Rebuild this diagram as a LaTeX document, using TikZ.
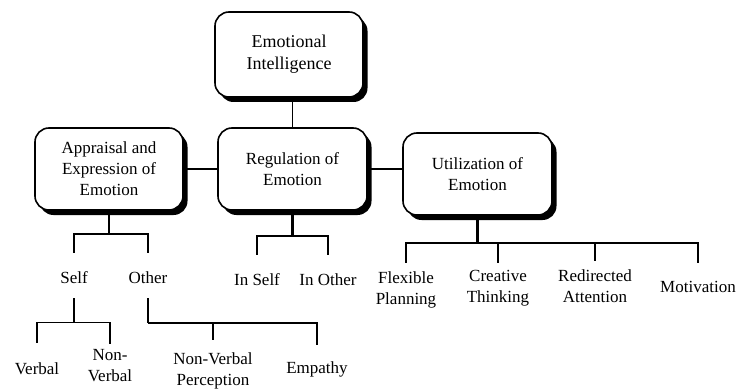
\documentclass[tikz,border=0pt]{standalone}
\usepackage{fontspec}
\setmainfont{Liberation Serif}
\usetikzlibrary{calc}
\usetikzlibrary{shadows}

\begin{document}
\begin{tikzpicture}[x=1pt,y=1pt,
  box/.style={draw=black,line width=1.6pt,rounded corners=14pt,fill=white,
    minimum width=148pt,minimum height=82pt,inner sep=0pt,align=center,
    font=\fontsize{17}{21}\selectfont,
    drop shadow={shadow xshift=4.5pt,shadow yshift=-5pt,fill=black,opacity=1}},
  lbl/.style={inner sep=0pt,align=center,font=\fontsize{17}{21}\selectfont},
  conn/.style={draw=black,line width=\lw},
  stem/.style={draw=black,line width=\lwstem}]

\def\lw{1.5pt}
\def\lwstem{2.4pt}

\useasboundingbox (0,0) rectangle (738,-390);

% boxes
\node[box,font=\fontsize{18}{22}\selectfont,minimum height=85pt] (ei) at (289,-54.5) {Emotional\\Intelligence};
\node[box] (app) at (109,-169) {Appraisal and\\Expression of\\Emotion};
\node[box,minimum width=149pt] (reg) at (292.5,-169) {Regulation of\\Emotion};
\node[box,minimum width=149pt] (util) at (477.5,-174) {Utilization of\\Emotion};

% labels
\node[lbl] (self) at (74,-278) {Self};
\node[lbl] (other) at (148,-278) {Other};
\node[lbl] (verbal) at (37,-368.5) {Verbal};
\node[lbl] (nonverbal) at (110,-366) {Non-\\Verbal};
\node[lbl] (nvp) at (213,-370.5) {Non-Verbal\\Perception};
\node[lbl] (empathy) at (317,-369) {Empathy};
\node[lbl] (inself) at (257,-280) {In Self};
\node[lbl] (inother) at (328,-280) {In Other};
\node[lbl] (flex) at (406,-290) {Flexible\\Planning};
\node[lbl] (creative) at (498,-288) {Creative\\Thinking};
\node[lbl] (redir) at (595,-286.5) {Redirected\\Attention};
\node[lbl] (motiv) at (698,-287) {Motivation};

% box to box
\draw[conn] (reg.north) -- (reg.north |- ei.south);
\draw[conn] (app.east) -- (reg.west);
\draw[conn] (reg.east) -- (reg.east -| util.west);

% appraisal
\draw[stem] (app.south) -- ++(0,-23) coordinate (appj);
\draw[conn,shorten >=19pt] (appj) -| (self.north);
\draw[conn,shorten >=19pt] (appj) -| (other.north);

\draw[conn] (self.south) ++(0,-14) -- ++(0,-24) coordinate (selfj);
\draw[conn,shorten >=19.5pt] (selfj) -| (verbal.north);
\draw[conn,shorten >=6pt] (selfj) -| (nonverbal.north);

\draw[stem] (other.south) ++(0,-14) -- ++(0,-25) coordinate (otherj);
\draw[stem,shorten >=12.5pt] (otherj) -| (nvp.north);
\draw[stem,shorten >=16.5pt] (otherj) -| (empathy.north);

% regulation
\draw[stem] (reg.south) -- ++(0,-25) coordinate (regj);
\draw[conn,shorten >=19pt] (regj) -| (inself.north);
\draw[conn,shorten >=19pt] (regj) -| (inother.north);

% utilization
\draw[stem] (util.south) -- ++(0,-27) coordinate (utilj);
\draw[conn,shorten >=9pt] (utilj) -| (flex.north);
\draw[conn,shorten >=7pt] (utilj) -| (creative.north);
\draw[stem,shorten >=9pt] (utilj) -| (redir.north);
\draw[conn,shorten >=18pt] (utilj) -| (motiv.north);

\end{tikzpicture}
\end{document}
